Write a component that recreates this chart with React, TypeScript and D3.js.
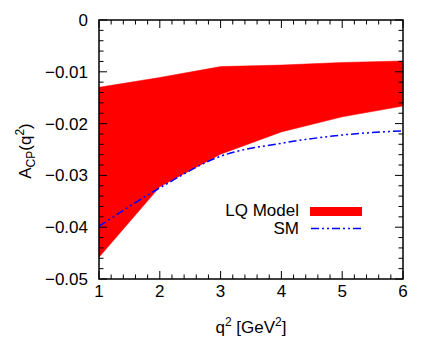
import React, { useRef, useEffect } from 'react';
import * as d3 from 'd3';

// q^2 values where the curves are sampled
const q2 = [1, 2, 3, 4, 5, 6];
// LQ model band (upper / lower edge)
const lqUpper = [-0.0130, -0.0111, -0.0090, -0.0087, -0.0082, -0.0079];
const lqLower = [-0.0458, -0.0322, -0.0259, -0.0216, -0.0187, -0.0166];
// Standard Model prediction
const smValues = [-0.0398, -0.0324, -0.0263, -0.0238, -0.0222, -0.0214];

const xTicks = [1, 2, 3, 4, 5, 6];
const yTicks = [0, -0.01, -0.02, -0.03, -0.04, -0.05];

const App = () => {
    const ref = useRef<SVGSVGElement>(null);

    useEffect(() => {
        const svg = d3.select(ref.current);
        svg.selectAll('*').remove();

        const margin = { top: 20, right: 33, bottom: 75, left: 99 };
        const width = 436 - margin.left - margin.right;
        const height = 354 - margin.top - margin.bottom;
        const font = 'Liberation Sans, Arial, Helvetica, sans-serif';
        const fs = '17px';
        const sup = '12px';

        const g = svg.append('g')
            .attr('transform', 'translate(' + margin.left + ',' + margin.top + ')');

        const x = d3.scaleLinear().domain([1, 6]).range([0, width]);
        const y = d3.scaleLinear().domain([-0.05, 0]).range([height, 0]);

        // band
        const area = d3.area<number>()
            .x((d, i) => x(q2[i]))
            .y0((d, i) => y(lqLower[i]))
            .y1((d, i) => y(lqUpper[i]));
        g.append('path')
            .datum(q2)
            .attr('d', area)
            .attr('fill', '#ff0000')
            .attr('stroke', '#ff0000')
            .attr('stroke-width', 0.5);

        // SM line
        const line = d3.line<number>()
            .x((d, i) => x(q2[i]))
            .y(d => y(d))
            .curve(d3.curveMonotoneX);
        const dash = '8,3,2,3,2,3';
        g.append('path')
            .datum(smValues)
            .attr('d', line)
            .attr('fill', 'none')
            .attr('stroke', '#0000ff')
            .attr('stroke-width', 1.5)
            .attr('stroke-dasharray', dash);

        // ticks on all four sides, pointing inward
        const xMinor = d3.range(1, 6.0001, 0.2);
        xMinor.forEach(v => {
            const major = Math.abs(v - Math.round(v)) < 1e-6;
            const len = major ? 8 : 4.5;
            g.append('line').attr('x1', x(v)).attr('x2', x(v))
                .attr('y1', height).attr('y2', height - len)
                .attr('stroke', '#000');
            g.append('line').attr('x1', x(v)).attr('x2', x(v))
                .attr('y1', 0).attr('y2', len)
                .attr('stroke', '#000');
        });
        const yMinor = d3.range(0, 26).map(i => -i * 0.002);
        yMinor.forEach((v, i) => {
            const len = i % 5 === 0 ? 8 : 4.5;
            g.append('line').attr('x1', 0).attr('x2', len)
                .attr('y1', y(v)).attr('y2', y(v))
                .attr('stroke', '#000');
            g.append('line').attr('x1', width).attr('x2', width - len)
                .attr('y1', y(v)).attr('y2', y(v))
                .attr('stroke', '#000');
        });

        // frame
        g.append('rect')
            .attr('width', width).attr('height', height)
            .attr('fill', 'none').attr('stroke', '#000').attr('stroke-width', 1.5);

        // tick labels
        g.selectAll('.xl').data(xTicks).enter().append('text')
            .attr('x', d => x(d)).attr('y', height + 18)
            .attr('text-anchor', 'middle')
            .style('font-family', font).style('font-size', fs)
            .text(d => d);
        g.selectAll('.yl').data(yTicks).enter().append('text')
            .attr('x', -11).attr('y', d => y(d) + 6)
            .attr('text-anchor', 'end')
            .style('font-family', font).style('font-size', fs)
            .text(d => (d === 0 ? '0' : d3.format('.2f')(d)));

        // axis labels
        const xl = g.append('text')
            .attr('x', width / 2).attr('y', height + 54)
            .attr('text-anchor', 'middle')
            .style('font-family', font).style('font-size', fs);
        xl.append('tspan').text('q');
        xl.append('tspan').attr('dy', -7).style('font-size', sup).text('2');
        xl.append('tspan').attr('dy', 7).text(' [GeV');
        xl.append('tspan').attr('dy', -7).style('font-size', sup).text('2');
        xl.append('tspan').attr('dy', 7).text(']');

        const yl = svg.append('text')
            .attr('transform', 'translate(31,151) rotate(-90)')
            .attr('text-anchor', 'middle')
            .style('font-family', font).style('font-size', fs);
        yl.append('tspan').text('A');
        yl.append('tspan').attr('dy', 4).style('font-size', sup).text('CP');
        yl.append('tspan').attr('dy', -4).text('(q');
        yl.append('tspan').attr('dy', -7).style('font-size', sup).text('2');
        yl.append('tspan').attr('dy', 7).text(')');

        // legend
        svg.append('text')
            .attr('x', 299).attr('y', 216)
            .attr('text-anchor', 'end')
            .style('font-family', font).style('font-size', fs)
            .text('LQ Model');
        svg.append('rect')
            .attr('x', 310).attr('y', 207)
            .attr('width', 52).attr('height', 9)
            .attr('fill', '#ff0000');
        svg.append('text')
            .attr('x', 299).attr('y', 234)
            .attr('text-anchor', 'end')
            .style('font-family', font).style('font-size', fs)
            .text('SM');
        svg.append('line')
            .attr('x1', 311).attr('x2', 362)
            .attr('y1', 228.5).attr('y2', 228.5)
            .attr('stroke', '#0000ff').attr('stroke-width', 1.5)
            .attr('stroke-dasharray', dash);
    }, []);

    return (
        <svg ref={ref} width={436} height={354}
            style={{ position: 'absolute', left: 0, top: 0 }}></svg>
    );
};

export default App;
